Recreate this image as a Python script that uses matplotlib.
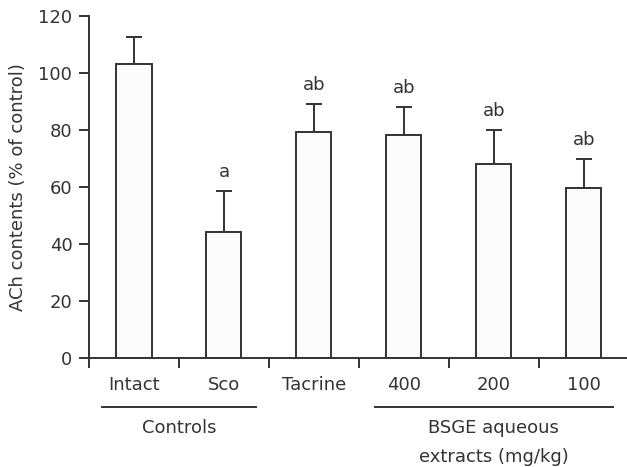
import matplotlib
matplotlib.use("Agg")
import matplotlib.pyplot as plt
import matplotlib.transforms as mtransforms
import numpy as np

categories = ["Intact", "Sco", "Tacrine", "400", "200", "100"]
values = [103.2, 44.2, 79.3, 78.2, 68.2, 59.8]
errors = [9.6, 14.4, 9.9, 9.9, 11.7, 9.9]
sig_labels = ["", "a", "ab", "ab", "ab", "ab"]
y_ticks = [0, 20, 40, 60, 80, 100, 120]
group_names = ["Controls", "BSGE aqueous\nextracts (mg/kg)"]

plt.rcParams['font.family'] = ['DejaVu Sans']
C = "#333333"
FS = 13

fig = plt.figure(figsize=(6.27, 4.67), dpi=100)
ax = fig.add_axes([89/627, 109/467, 538/627, 342/467])

x = np.arange(len(categories))
ax.bar(x, values, width=0.39, color="#fbfbfb", edgecolor=C, linewidth=1.4, zorder=2)
ax.errorbar(x, values, yerr=[np.zeros(len(values)), errors], fmt="none",
            ecolor=C, elinewidth=1.4, capsize=5.5, capthick=1.4, zorder=1)
for xi, v, e, s in zip(x, values, errors, sig_labels):
    if s:
        ax.text(xi, v + e + 3.5, s, ha="center", va="bottom", fontsize=FS, color=C)

ax.set_xlim(-0.5, 5.48)
ax.set_ylim(0, 120)
ax.set_yticks(y_ticks)
ax.set_yticklabels([str(t) for t in y_ticks], fontsize=FS, color=C)
ax.set_xticks(np.arange(-0.5, 5.0, 1.0))
ax.set_xticklabels([])
for spine in ["top", "right"]:
    ax.spines[spine].set_visible(False)
for spine in ["left", "bottom"]:
    ax.spines[spine].set_color(C)
    ax.spines[spine].set_linewidth(1.4)
ax.tick_params(axis="both", direction="out", length=7, width=1.4, color=C)
ax.tick_params(axis="y", pad=5)

ax.set_ylabel("ACh contents (% of control)", fontsize=FS, color=C, labelpad=8)

trans = mtransforms.blended_transform_factory(ax.transData, ax.transAxes)
for xi, c in zip(x, categories):
    ax.text(xi, -0.08, c, transform=trans, ha="center", va="center", fontsize=FS, color=C)

ax.plot([-0.36, 1.36], [-0.143, -0.143], transform=trans, color=C, lw=1.4, clip_on=False)
ax.plot([2.68, 5.32], [-0.143, -0.143], transform=trans, color=C, lw=1.4, clip_on=False)
ax.text(0.5, -0.205, group_names[0], transform=trans, ha="center", va="center", fontsize=FS, color=C)
ax.text(4.0, -0.205, "BSGE aqueous", transform=trans, ha="center", va="center", fontsize=FS, color=C)
ax.text(4.0, -0.29, "extracts (mg/kg)", transform=trans, ha="center", va="center", fontsize=FS, color=C)

fig.savefig("out.png", dpi=100, facecolor="white")
